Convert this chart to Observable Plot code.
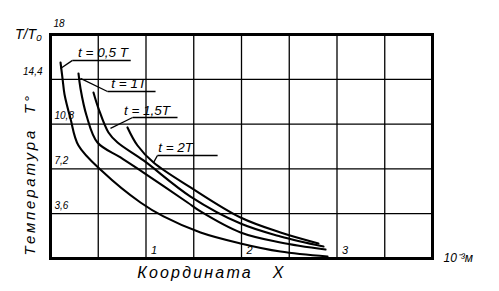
<!DOCTYPE html>
<html><head><meta charset="utf-8">
<script src="https://cdn.jsdelivr.net/npm/d3@7"></script>
<script src="https://cdn.jsdelivr.net/npm/@observablehq/plot@0.6"></script>
<style>body{margin:0;background:#fff}</style>
</head><body><div id="chart"></div>
<script>
// Series names
const seriesNames = ["t = 0,5 T", "t = 1T", "t = 1,5T", "t = 2T"];
// Curve values (x in 10^-3 m, y = T/T0)
const c1x = [0.105, 0.126, 0.147, 0.209, 0.293, 0.545, 0.942, 1.183, 1.571, 1.990, 2.408, 2.901];
const c1y = [15.75, 14.46, 13.18, 11.25, 9.08, 6.99, 4.50, 3.38, 2.09, 1.21, 0.56, 0.16];
const c2x = [0.293, 0.314, 0.377, 0.492, 0.733, 0.974, 1.435, 1.571, 1.990, 2.408, 2.880];
const c2y = [14.87, 13.66, 11.49, 9.32, 8.12, 6.91, 4.50, 3.78, 2.09, 1.29, 0.72];
const c3x = [0.450, 0.503, 0.607, 0.702, 0.974, 1.466, 1.990, 2.408, 2.859];
const c3y = [13.34, 12.05, 10.13, 9.32, 7.88, 4.98, 2.81, 1.77, 0.96];
const c4x = [0.806, 0.911, 1.079, 1.466, 1.990, 2.408, 2.806];
const c4y = [10.53, 9.08, 7.71, 5.71, 3.29, 2.09, 1.21];
// Ticks and grid
const xTickLabels = [1, 2, 3];
const yTickLabels = [3.6, 7.2, 10.8, 14.4, 18];
const xGrid = [0.5, 1, 1.5, 2, 2.5, 3, 3.5];
const yGrid = [3.6, 7.2, 10.8, 14.4];
// Annotation anchors (data units): point on curve, underline start/end
const annoPointX = [0.105, 0.314, 0.628, 1.08];
const annoPointY = [15.27, 14.47, 10.45, 7.72];
const annoLineX1 = [0.23, 0.597, 0.86, 1.12];
const annoLineX2 = [0.84, 1.10, 1.33, 1.75];
const annoLineY = [15.92, 13.42, 11.33, 8.28];
const annoTextX = [0.55, 0.82, 1.01, 1.31];
// Titles
const yTitle = "Температура  T°";
const xTitle = "Координата   X";
const unitText = "10⁻³м";
const ratioText = "T/T₀";

const xs = [c1x, c2x, c3x, c4x], ys = [c1y, c2y, c3y, c4y];
const curves = [];
seriesNames.forEach((s, i) => xs[i].forEach((x, j) => curves.push({series: s, x, y: ys[i][j]})));
const idx = seriesNames.map((_, i) => i);
const fmt = d => String(d).replace(".", ",");
const ink = "#000";

const chart = Plot.plot({
  width: 499, height: 291,
  marginLeft: 50, marginRight: 67, marginTop: 34, marginBottom: 33,
  x: {domain: [0, 4], axis: null},
  y: {domain: [0, 18], axis: null},
  style: {fontFamily: "Liberation Sans", fontStyle: "italic", background: "#fff", color: ink},
  marks: [
    Plot.gridX(xGrid, {stroke: ink, strokeOpacity: 1, strokeWidth: 1.3}),
    Plot.gridY(yGrid, {stroke: ink, strokeOpacity: 1, strokeWidth: 1.3}),
    Plot.frame({stroke: ink, strokeWidth: 3}),
    Plot.line(curves, {x: "x", y: "y", z: "series", curve: "catmull-rom", stroke: ink, strokeWidth: 2.1}),
    Plot.link(idx, {x1: i => annoPointX[i], y1: i => annoPointY[i], x2: i => annoLineX1[i], y2: i => annoLineY[i], stroke: ink, strokeWidth: 1.3}),
    Plot.link(idx, {x1: i => annoLineX1[i], y1: i => annoLineY[i], x2: i => annoLineX2[i], y2: i => annoLineY[i], stroke: ink, strokeWidth: 1.5}),
    Plot.text(idx, {x: i => annoTextX[i], y: i => annoLineY[i], text: i => seriesNames[i], lineAnchor: "bottom", dy: -3, fontSize: 13.5, fill: ink}),
    Plot.text(yTickLabels.filter(v => v !== 14.4 && v !== 18), {y: d => d, text: fmt, frameAnchor: "left", dx: 4, dy: -8, textAnchor: "start", fontSize: 10, fill: ink}),
    Plot.text(yTickLabels.filter(v => v === 14.4), {y: d => d, text: fmt, frameAnchor: "left", dx: -8, dy: -8, textAnchor: "end", fontSize: 10, fill: ink}),
    Plot.text(yTickLabels.filter(v => v === 18), {y: d => d, text: fmt, frameAnchor: "left", dx: 3, dy: -11, textAnchor: "start", fontSize: 10, fill: ink}),
    Plot.text(xTickLabels, {x: d => d, text: d => String(d), frameAnchor: "bottom", dx: 5, dy: -5, textAnchor: "start", fontSize: 11, fill: ink}),
    Plot.text([ratioText], {frameAnchor: "top-left", dx: -22, dy: 0, textAnchor: "middle", lineAnchor: "middle", fontSize: 14, fill: ink}),
    Plot.text([unitText], {frameAnchor: "bottom-right", dx: 11, dy: 0, textAnchor: "start", lineAnchor: "middle", fontSize: 12, fill: ink}),
    Plot.text([yTitle], {frameAnchor: "bottom-left", dx: -20, dy: -3, rotate: -90, textAnchor: "start", lineAnchor: "middle", fontSize: 15, fill: ink, className: "ytitle"}),
    Plot.text([xTitle], {frameAnchor: "bottom", dx: -30, dy: 14, textAnchor: "middle", lineAnchor: "middle", fontSize: 16, fill: ink, className: "xtitle"})
  ]
});
chart.querySelectorAll(".ytitle text").forEach(t => t.style.letterSpacing = "2.8px");
chart.querySelectorAll(".xtitle text").forEach(t => t.style.letterSpacing = "2.2px");
document.getElementById("chart").appendChild(chart);
</script>
</body></html>
